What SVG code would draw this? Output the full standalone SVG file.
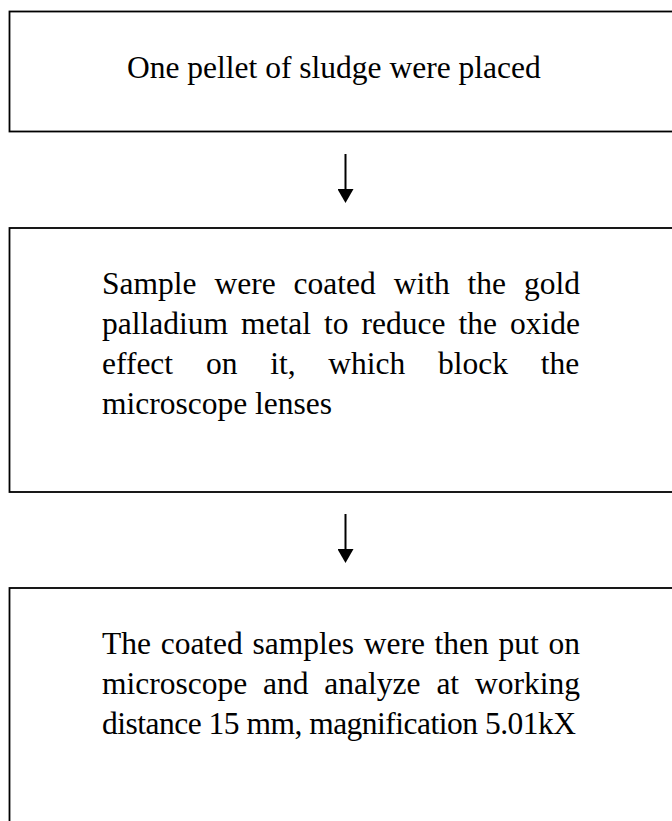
<svg xmlns="http://www.w3.org/2000/svg" width="672" height="821" viewBox="0 0 672 821">
<style>
.box{fill:#fff;stroke:#000;stroke-width:1.8}
.t{font-family:"Liberation Serif","Times New Roman",serif;font-size:31.5px;fill:#000}
.conn{stroke:#000;stroke-width:2;fill:none}
</style>
<defs>
<marker id="ah" markerUnits="userSpaceOnUse" viewBox="0 0 14 16" refX="0" refY="8" markerWidth="14" markerHeight="16" orient="auto">
<path d="M0,0 L14,8 L0,16 z" fill="#000"/>
</marker>
</defs>
<rect width="672" height="821" fill="#fff"/>
<g id="node1">
<rect class="box" x="9.5" y="11.5" width="690" height="120"/>
<text class="t" x="127" y="78">One pellet of sludge were placed</text>
</g>
<g id="node2">
<rect class="box" x="9.5" y="228" width="690" height="264"/>
<text class="t" x="102" y="294" word-spacing="10.05">Sample were coated with the gold</text>
<text class="t" x="102" y="334" word-spacing="5.14">palladium metal to reduce the oxide</text>
<text class="t" x="102" y="374" word-spacing="24.91">effect on it, which block the</text>
<text class="t" x="102" y="414">microscope lenses</text>
</g>
<g id="node3">
<rect class="box" x="9.5" y="588" width="690" height="260"/>
<text class="t" x="102" y="654" word-spacing="1.81">The coated samples were then put on</text>
<text class="t" x="102" y="694" word-spacing="7.97">microscope and analyze at working</text>
<text class="t" x="102" y="734" textLength="474" lengthAdjust="spacing">distance 15 mm, magnification 5.01kX</text>
</g>
<g id="connectors">
<line class="conn" x1="345.5" y1="154" x2="345.5" y2="189" marker-end="url(#ah)"/>
<line class="conn" x1="345.5" y1="514" x2="345.5" y2="549" marker-end="url(#ah)"/>
</g>
</svg>
